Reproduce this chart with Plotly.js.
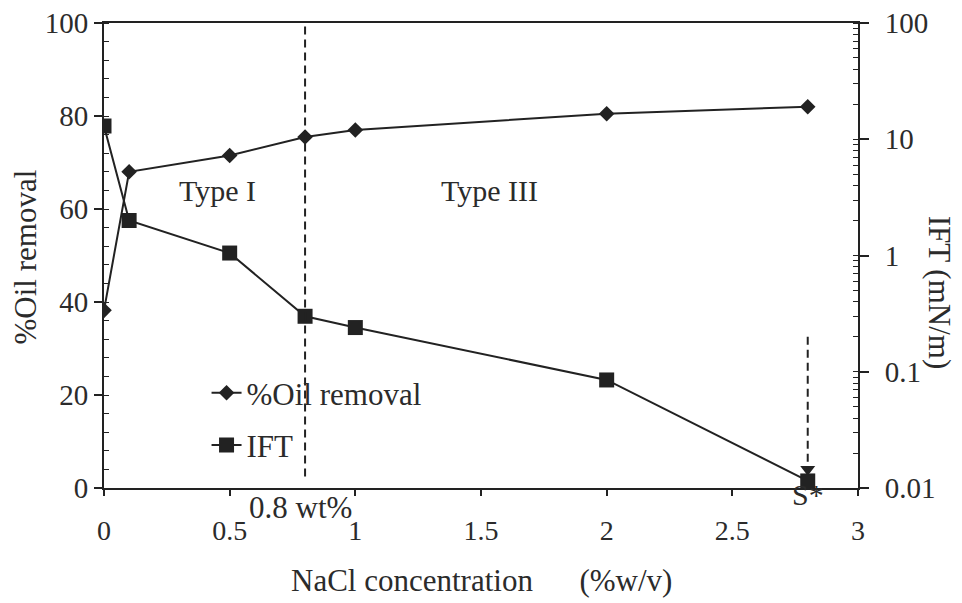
<!DOCTYPE html>
<html>
<head>
<meta charset="utf-8">
<script src="https://cdn.plot.ly/plotly-3.0.1.min.js"></script>
<style>
  html, body { margin: 0; padding: 0; background: #fff; }
  #chart { width: 962px; height: 603px; }
</style>
</head>
<body>
<div id="chart"></div>
<script>
// NaCl concentration (%w/v) at each measurement
const nacl = [0, 0.1, 0.5, 0.8, 1, 2, 2.8];
// Oil removal (%) – left axis
const oilRemoval = [38.2, 68, 71.5, 75.5, 77, 80.5, 82];
// Interfacial tension (mN/m) – right log axis
const ift = [13, 2, 1.05, 0.3, 0.24, 0.085, 0.0115];

// Axis ticks
const xTicks = [0, 0.5, 1, 1.5, 2, 2.5, 3];
const yTicks = [0, 20, 40, 60, 80, 100];
const iftTicks = [0.01, 0.1, 1, 10, 100];
const iftTickText = ['0.01', '0.1', '1', '10', '100'];

// Phase boundary and optimum salinity markers
const phaseBoundary = 0.8;        // Type I / Type III transition (wt%)
const optimumSalinity = 2.8;      // S*
const optimumArrow = [0.2, 0.0145]; // IFT range of the S* arrow

const ink = '#222';
const textInk = '#2b2b2b';
// fresh font object for every place that takes one
function serif(size) {
  return { family: 'Liberation Serif', size: size || 28, color: textInk };
}

const traces = [
  {
    x: nacl, y: oilRemoval, name: '%Oil removal',
    type: 'scatter', mode: 'lines+markers',
    line: { color: ink, width: 2 },
    marker: { symbol: 'diamond', size: 12, color: ink },
    yaxis: 'y', legendgroup: 'oil'
  },
  {
    x: nacl, y: ift, name: 'IFT',
    type: 'scatter', mode: 'lines+markers',
    line: { color: ink, width: 2 },
    marker: { symbol: 'square', size: 15, color: ink },
    yaxis: 'y2', legendgroup: 'ift'
  },
  {
    // arrow head pointing at S*
    x: [optimumSalinity], y: [optimumArrow[1]],
    type: 'scatter', mode: 'markers', showlegend: false, hoverinfo: 'skip',
    marker: { symbol: 'triangle-down', size: 13, color: ink },
    yaxis: 'y2'
  }
];

const dashStyle = '8px,5px';

const layout = {
  width: 962, height: 603,
  margin: { l: 104, r: 104, t: 23, b: 115 },
  paper_bgcolor: '#fff', plot_bgcolor: '#fff',
  showlegend: true,
  legend: {
    x: 0.136, y: 0.262, xanchor: 'left', yanchor: 'top',
    bgcolor: 'rgba(0,0,0,0)', font: serif(31),
    traceorder: 'grouped', tracegroupgap: 9
  },
  xaxis: {
    range: [0, 3], tickvals: xTicks, ticktext: xTicks.map(String),
    showgrid: false, zeroline: false,
    showline: true, linecolor: ink, linewidth: 2, mirror: true,
    ticks: 'outside', ticklen: 6, tickcolor: ink, tickwidth: 1.5,
    ticklabelstandoff: 10,
    tickfont: serif(28)
  },
  yaxis: {
    range: [0, 100], tickvals: yTicks, ticktext: yTicks.map(String),
    showgrid: false, zeroline: false,
    showline: true, linecolor: ink, linewidth: 2,
    ticks: 'outside', ticklen: 8, tickcolor: ink, tickwidth: 1.5,
    minor: { ticks: 'inside', dtick: 4, ticklen: 5, tickcolor: ink, tickwidth: 1, showgrid: false },
    tickfont: serif(29)
  },
  yaxis2: {
    type: 'log', range: [-2, 2], overlaying: 'y', side: 'right',
    tickvals: iftTicks, ticktext: iftTickText,
    showgrid: false, zeroline: false,
    showline: true, linecolor: ink, linewidth: 2,
    ticks: 'outside', ticklen: 9, tickcolor: ink, tickwidth: 1.5,
    ticklabelstandoff: 10,
    minor: { ticks: 'inside', dtick: 'D1', ticklen: 5, tickcolor: ink, tickwidth: 1, showgrid: false },
    tickfont: serif(29)
  },
  shapes: [
    {
      type: 'line', xref: 'x', yref: 'y',
      x0: phaseBoundary, x1: phaseBoundary, y0: 2.5, y1: 100,
      line: { color: ink, width: 2, dash: dashStyle }
    },
    {
      type: 'line', xref: 'x', yref: 'y2',
      x0: optimumSalinity, x1: optimumSalinity, y0: optimumArrow[0], y1: optimumArrow[1],
      line: { color: ink, width: 2, dash: dashStyle }
    }
  ],
  annotations: [
    { text: 'Type I', x: 0.45, y: 64, xref: 'x', yref: 'y', showarrow: false, font: serif(30) },
    { text: 'Type III', x: 1.535, y: 64, xref: 'x', yref: 'y', showarrow: false, font: serif(30) },
    // labels sitting just under the x axis line
    { text: '0.8 wt%', x: 0.78, y: -0.041, xref: 'x', yref: 'paper', yanchor: 'middle', showarrow: false, font: serif(31) },
    { text: 'S*', x: optimumSalinity, y: -0.013, xref: 'x', yref: 'paper', yanchor: 'middle', showarrow: false, font: serif(30) },
    {
      text: 'NaCl concentration\u00a0\u00a0\u00a0\u00a0\u00a0\u00a0(%w/v)',
      xref: 'paper', yref: 'paper', x: 0.5, y: -0.198, yanchor: 'middle',
      showarrow: false, font: serif(31)
    },
    {
      text: '%Oil removal', textangle: -90,
      xref: 'paper', yref: 'paper', x: -0.104, y: 0.497, xanchor: 'center', yanchor: 'middle',
      showarrow: false, font: serif(31)
    },
    {
      text: 'IFT (mN/m)', textangle: 90,
      xref: 'paper', yref: 'paper', x: 1.1075, y: 0.42, xanchor: 'center', yanchor: 'middle',
      showarrow: false, font: serif(31)
    }
  ]
};

Plotly.newPlot('chart', traces, layout, { displayModeBar: false });
</script>
</body>
</html>
